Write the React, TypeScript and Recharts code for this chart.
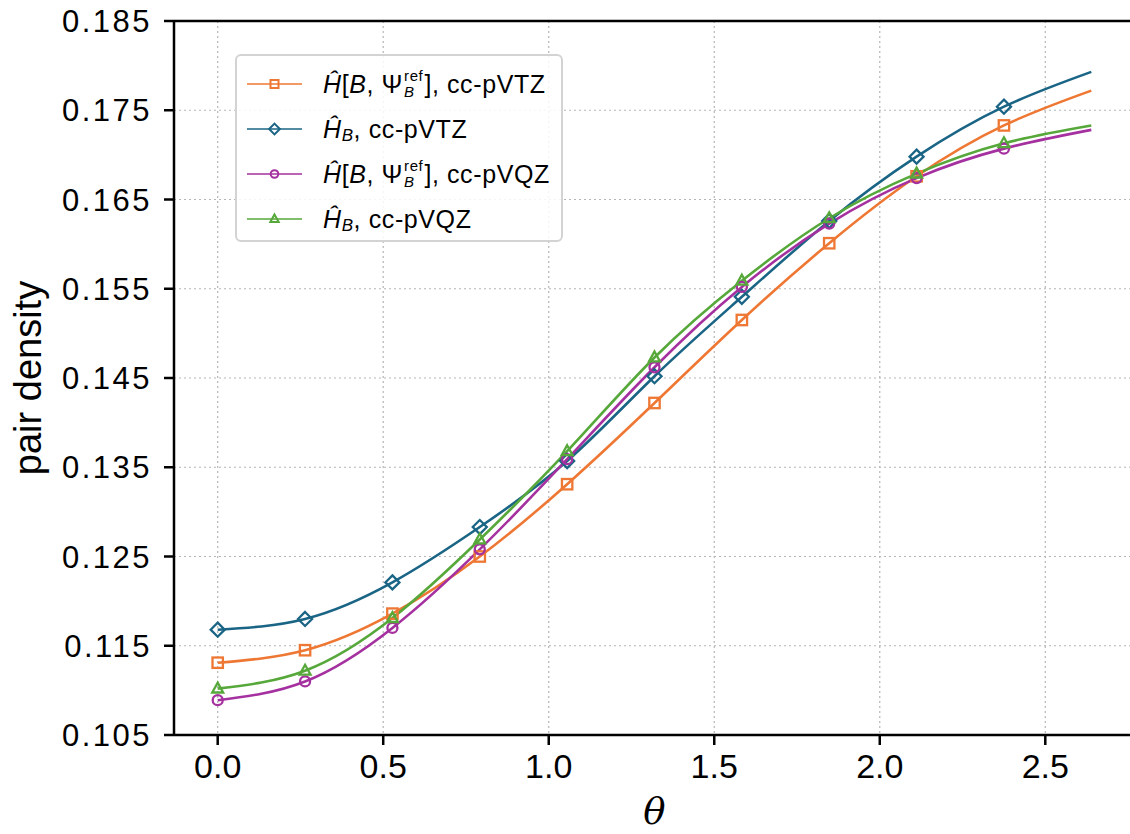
import React from "react"
import { LineChart, Line, XAxis, YAxis, CartesianGrid, ReferenceLine, Label } from "recharts"

// angle grid (rad) and the four pair-density curves
const theta = [0, 0.2639, 0.5278, 0.7917, 1.0556, 1.3195, 1.5834, 1.8473, 2.1112, 2.3751, 2.639]
const hRefTZ = [0.1131, 0.1145, 0.1186, 0.125, 0.1331, 0.1422, 0.1515, 0.1601, 0.1676, 0.1733, 0.1772]
const hTZ = [0.1168, 0.118, 0.1221, 0.1283, 0.1357, 0.1452, 0.1541, 0.1626, 0.1698, 0.1754, 0.1793]
const hRefQZ = [0.1089, 0.111, 0.117, 0.1258, 0.1359, 0.1462, 0.1552, 0.1623, 0.1674, 0.1707, 0.1728]
const hQZ = [0.1102, 0.1122, 0.1181, 0.1269, 0.1368, 0.1473, 0.1559, 0.1629, 0.1679, 0.1713, 0.1733]

const xTicks = [0, 0.5, 1.0, 1.5, 2.0, 2.5]
const yTicks = [0.105, 0.115, 0.125, 0.135, 0.145, 0.155, 0.165, 0.175, 0.185]

const data = theta.map((t, i) => ({
  theta: t,
  hRefTZ: hRefTZ[i],
  hTZ: hTZ[i],
  hRefQZ: hRefQZ[i],
  hQZ: hQZ[i],
}))

type Shape = "square" | "diamond" | "circle" | "triangle"

const series: { key: string; color: string; shape: Shape; basis: string; ref: boolean }[] = [
  { key: "hRefTZ", color: "#ee7733", shape: "square", basis: "cc-pVTZ", ref: true },
  { key: "hTZ", color: "#1a6585", shape: "diamond", basis: "cc-pVTZ", ref: false },
  { key: "hRefQZ", color: "#a5309f", shape: "circle", basis: "cc-pVQZ", ref: true },
  { key: "hQZ", color: "#57a83a", shape: "triangle", basis: "cc-pVQZ", ref: false },
]

function Marker({ shape, cx, cy, color, s, sw }: { shape: Shape; cx: number; cy: number; color: string; s: number; sw: number }) {
  if (shape === "square")
    return <rect x={cx - s} y={cy - s} width={2 * s} height={2 * s} fill="none" stroke={color} strokeWidth={sw} />
  if (shape === "diamond") {
    const d = s * 1.35
    return <polygon points={`${cx},${cy - d} ${cx + d},${cy} ${cx},${cy + d} ${cx - d},${cy}`} fill="none" stroke={color} strokeWidth={sw} />
  }
  if (shape === "circle") return <circle cx={cx} cy={cy} r={s} fill="none" stroke={color} strokeWidth={sw} />
  return (
    <polygon
      points={`${cx},${cy - s * 1.15} ${cx + s * 1.05},${cy + s * 0.75} ${cx - s * 1.05},${cy + s * 0.75}`}
      fill="none"
      stroke={color}
      strokeWidth={sw}
    />
  )
}

const sans = "'Liberation Sans', Arial, sans-serif"

function LegendLabel({ refState, basis }: { refState: boolean; basis: string }) {
  return (
    <span style={{ fontFamily: sans, fontSize: 25, letterSpacing: 0.6, whiteSpace: "nowrap", display: "inline-flex", alignItems: "center" }}>
      <i>Ĥ</i>
      {refState ? (
        <>
          [<i>B</i>,&nbsp;Ψ
          <span style={{ display: "inline-flex", flexDirection: "column", fontSize: 15, lineHeight: "16px", marginLeft: 1, marginRight: 1 }}>
            <span>ref</span>
            <i>B</i>
          </span>
          ],&nbsp;{basis}
        </>
      ) : (
        <>
          <i style={{ fontSize: 17, position: "relative", top: 7 }}>B</i>,&nbsp;{basis}
        </>
      )}
    </span>
  )
}

export default function App() {
  return (
    <div style={{ position: "absolute", left: 0, top: 0, width: 1130, height: 834, overflow: "hidden", background: "#fff" }}>
      <LineChart width={1150} height={834} data={data} margin={{ top: 21, right: 15, bottom: 0, left: 0 }}>
        <CartesianGrid stroke="#b5b5b5" strokeDasharray="2 3" strokeWidth={1.2} />
        <XAxis
          dataKey="theta"
          type="number"
          domain={[-0.132, 2.771]}
          ticks={xTicks}
          allowDataOverflow
          height={99}
          tickSize={10}
          tickMargin={9}
          stroke="#000"
          strokeWidth={2.5}
          tickFormatter={(v: number) => v.toFixed(1)}
          tick={{ fill: "#000", fontSize: 34, fontFamily: sans }}
        >
          <Label
            value="θ"
            position="insideBottom"
            offset={10}
            style={{ fontFamily: "'DejaVu Serif', serif", fontStyle: "italic", fontSize: 37, fill: "#000" }}
          />
        </XAxis>
        <YAxis
          type="number"
          domain={[0.105, 0.185]}
          ticks={yTicks}
          allowDataOverflow
          width={174}
          tickSize={10}
          tickMargin={12}
          stroke="#000"
          strokeWidth={2.5}
          tickFormatter={(v: number) => v.toFixed(3)}
          tick={{ fill: "#000", fontSize: 31, fontFamily: sans, letterSpacing: 2.5 }}
        >
          <Label
            content={() => (
              <text transform="translate(41,378) rotate(-90)" textAnchor="middle" fontFamily={sans} fontSize={38} fill="#000">
                pair density
              </text>
            )}
          />
        </YAxis>
        <ReferenceLine y={0.185} stroke="#000" strokeWidth={2.5} ifOverflow="extendDomain" />
        {series.map((s) => (
          <Line
            key={s.key}
            type="natural"
            dataKey={s.key}
            stroke={s.color}
            strokeWidth={2.6}
            isAnimationActive={false}
            activeDot={false}
            dot={(p: any) =>
              p.index === theta.length - 1 ? (
                <g key={`${s.key}-${p.index}`} />
              ) : (
                <g key={`${s.key}-${p.index}`}>
                  <Marker shape={s.shape} cx={p.cx} cy={p.cy} color={s.color} s={s.shape === "circle" ? 5 : 5.2} sw={2.3} />
                </g>
              )
            }
          />
        ))}
      </LineChart>

      <div
        style={{
          position: "absolute",
          left: 235,
          top: 54,
          width: 328,
          height: 188,
          boxSizing: "border-box",
          border: "2px solid #d3d3d3",
          borderRadius: 6,
          background: "rgba(255,255,255,0.85)",
        }}
      >
        {series.map((s, i) => (
          <div key={s.key} style={{ position: "absolute", left: 8, top: 9 + i * 45, height: 38, display: "flex", alignItems: "center" }}>
            <svg width={60} height={20} style={{ marginRight: 18 }}>
              <line x1={2} y1={10} x2={57} y2={10} stroke={s.color} strokeWidth={1.6} />
              <Marker shape={s.shape} cx={29.5} cy={10} color={s.color} s={s.shape === "circle" ? 3.8 : 4} sw={2} />
            </svg>
            <LegendLabel refState={s.ref} basis={s.basis} />
          </div>
        ))}
      </div>
    </div>
  )
}
